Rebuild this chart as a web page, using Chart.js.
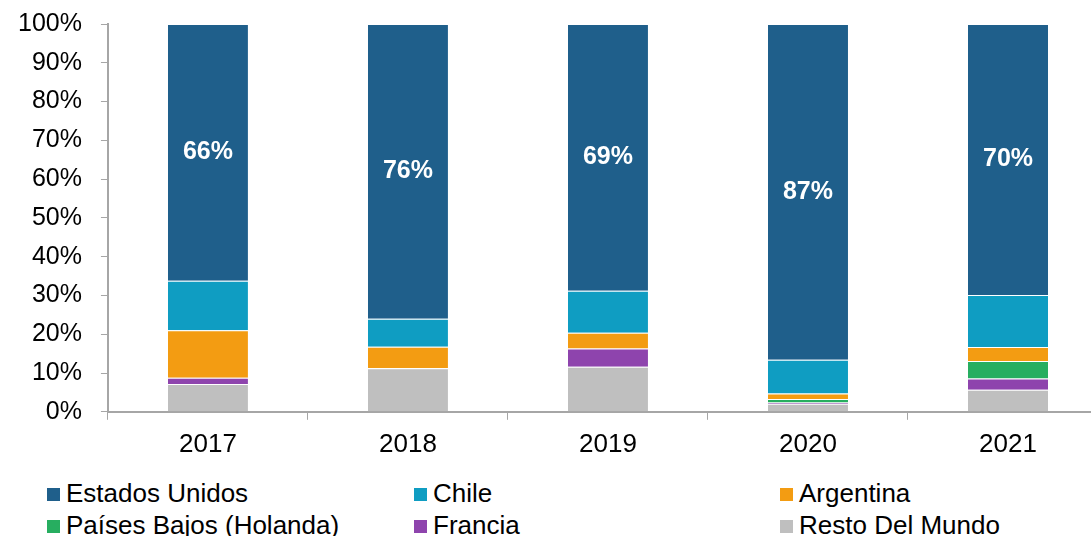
<!DOCTYPE html>
<html>
<head>
<meta charset="utf-8">
<script src="https://cdn.jsdelivr.net/npm/chart.js@4/dist/chart.umd.min.js"></script>
<style>
  html, body { margin: 0; padding: 0; background: #fff; overflow: hidden; }
  body { width: 1091px; height: 536px; position: relative; font-family: "Liberation Sans", Arial, sans-serif; }
  #wrap { position: absolute; left: -2px; top: -10px; width: 1110px; height: 479px; }
  .leg { position: absolute; font-size: 26px; color: #000; line-height: 30px; white-space: nowrap; }
  .leg i { display: inline-block; width: 13px; height: 13px; margin-right: 6px; vertical-align: 1px; }
</style>
</head>
<body>
<div id="wrap"><canvas id="mainChart"></canvas></div>
<div id="legend"></div>
<script>
// years on the x axis
const years = ['2017', '2018', '2019', '2020', '2021'];

// share of exports by destination (%), bottom of the stack first
const restoDelMundo = [7.2, 11.2, 11.6, 2.1, 5.7];
const francia       = [1.6, 0.0, 4.7, 0.3, 2.9];
const paisesBajos   = [0.0, 0.1, 0.0, 0.9, 4.5];
const argentina     = [12.2, 5.5, 4.1, 1.4, 3.6];
const chile         = [12.8, 7.2, 10.8, 8.7, 13.4];
const estadosUnidos = [66.2, 76.0, 68.8, 86.6, 69.9];

const yTicks = [0, 10, 20, 30, 40, 50, 60, 70, 80, 90, 100];

const FONT = '"Liberation Sans", Arial, sans-serif';
const AXIS = '#a6a6a6';

const series = [
  { label: 'Resto Del Mundo', data: restoDelMundo, color: '#bfbfbf' },
  { label: 'Francia', data: francia, color: '#8e44ad' },
  { label: 'Países Bajos (Holanda)', data: paisesBajos, color: '#27ae60' },
  { label: 'Argentina', data: argentina, color: '#f39c12' },
  { label: 'Chile', data: chile, color: '#0f9dc2' },
  { label: 'Estados Unidos', data: estadosUnidos, color: '#1f5f8b' }
];

// white percentage on the top (Estados Unidos) segment
const topLabels = {
  id: 'topLabels',
  afterDatasetsDraw(chart) {
    const idx = chart.data.datasets.length - 1;
    const meta = chart.getDatasetMeta(idx);
    const ctx = chart.ctx;
    ctx.save();
    ctx.font = 'bold 25px ' + FONT;
    ctx.fillStyle = '#fff';
    ctx.textAlign = 'center';
    ctx.textBaseline = 'middle';
    meta.data.forEach((bar, i) => {
      const v = chart.data.datasets[idx].data[i];
      const y = (bar.y + bar.base) / 2;
      ctx.fillText(Math.round(v) + '%', bar.x, y);
    });
    ctx.restore();
  }
};

const ctx = document.getElementById('mainChart').getContext('2d');
new Chart(ctx, {
  type: 'bar',
  data: {
    labels: years,
    datasets: series.map(s => ({
      label: s.label,
      data: s.data,
      backgroundColor: s.color,
      borderColor: 'rgba(255,255,255,0.35)',
      borderWidth: { top: 1, bottom: 0, left: 0, right: 0 },
      borderSkipped: false,
      categoryPercentage: 1,
      barPercentage: 0.4
    }))
  },
  options: {
    responsive: true,
    maintainAspectRatio: false,
    animation: false,
    layout: { padding: { top: 8, left: 1, right: 0, bottom: 0 } },
    plugins: {
      legend: { display: false },
      tooltip: { enabled: false }
    },
    scales: {
      x: {
        stacked: true,
        grid: { drawOnChartArea: false, color: AXIS, tickLength: 8, offset: true },
        border: { color: AXIS, width: 2 },
        ticks: { color: '#000', font: { family: FONT, size: 26 }, padding: 9 }
      },
      y: {
        stacked: true,
        min: 0,
        max: 100,
        afterBuildTicks: axis => { axis.ticks = yTicks.map(v => ({ value: v })); },
        grid: { drawOnChartArea: false, color: AXIS, tickLength: 7 },
        border: { color: AXIS, width: 2 },
        ticks: {
          color: '#000',
          font: { family: FONT, size: 25 },
          padding: 19,
          callback: v => v + '%'
        }
      }
    }
  },
  plugins: [topLabels]
});

// legend in three columns below the chart
const legendRows = [
  ['Estados Unidos', 'Chile', 'Argentina'],
  ['Países Bajos (Holanda)', 'Francia', 'Resto Del Mundo']
];
const colX = [47, 414, 780];
const rowY = [478, 510];
const legend = document.getElementById('legend');
legendRows.forEach((row, r) => {
  row.forEach((name, c) => {
    const s = series.find(d => d.label === name);
    const el = document.createElement('div');
    el.className = 'leg';
    el.style.left = colX[c] + 'px';
    el.style.top = rowY[r] + 'px';
    el.innerHTML = '<i style="background:' + s.color + '"></i>' + name;
    legend.appendChild(el);
  });
});
</script>
</body>
</html>
